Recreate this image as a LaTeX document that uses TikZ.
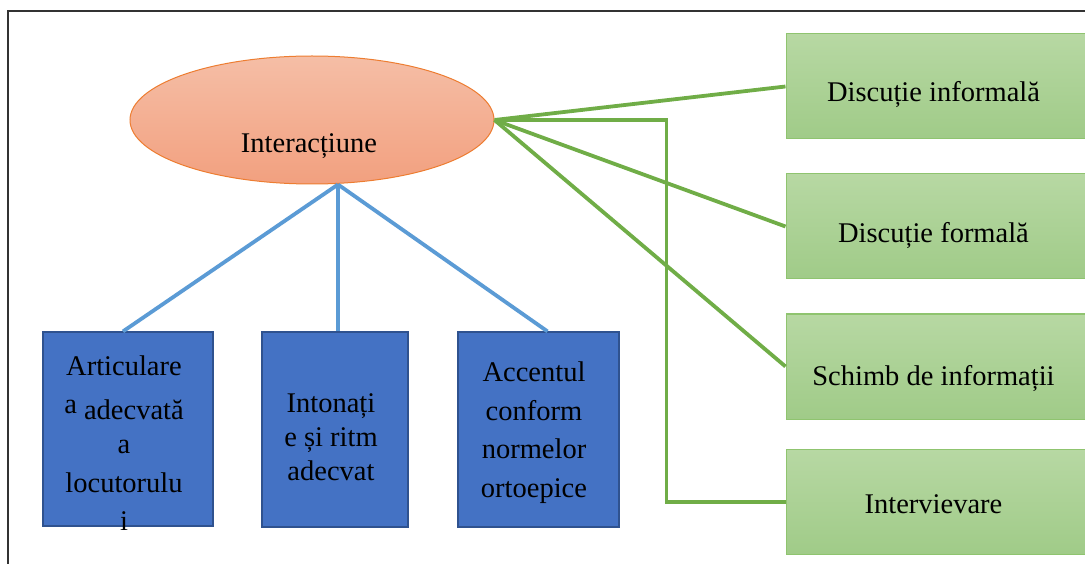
\documentclass[tikz,border=0pt]{standalone}
\usepackage{fontspec}
\setmainfont{Liberation Serif}
\usetikzlibrary{shapes.geometric,calc}

\definecolor{salmonTop}{HTML}{F5BEA6}
\definecolor{salmonBot}{HTML}{F2A07F}
\definecolor{orangeEdge}{HTML}{ED7D31}
\definecolor{boxBlue}{HTML}{4472C4}
\definecolor{boxBlueEdge}{HTML}{2F528F}
\definecolor{linkBlue}{HTML}{5B9BD5}
\definecolor{greenTop}{HTML}{B7D8A3}
\definecolor{greenBot}{HTML}{A0CB88}
\definecolor{greenEdge}{HTML}{8FC46F}
\definecolor{linkGreen}{HTML}{70AD47}

\begin{document}
\begin{tikzpicture}[x=1pt,y=-1pt,
  txt/.style={font=\fontsize{28.5}{38}\selectfont, inner sep=0pt, align=center, anchor=base},
  hub/.style={ellipse, draw=orangeEdge, line width=1pt, top color=salmonTop,
    bottom color=salmonBot, minimum width=364pt, minimum height=128pt, inner sep=0pt},
  bluebox/.style={rectangle, draw=boxBlueEdge, line width=1.2pt, fill=boxBlue, inner sep=0pt},
  greenbox/.style={rectangle, draw=greenEdge, line width=1pt, top color=greenTop,
    bottom color=greenBot, inner sep=0pt, minimum width=300pt, minimum height=105pt},
  bluelink/.style={draw=linkBlue, line width=3.8pt},
  greenlink/.style={draw=linkGreen, line width=3.8pt, line join=miter},
]
\useasboundingbox (0,0) rectangle (1085,564);
\begin{scope}
\clip (0,0) rectangle (1085,564);

% outer frame
\draw[line width=1.5pt, draw=black!80] (8,11) rectangle (1100,600);

% central ellipse
\node[hub] (hub) at (312,120) {};
\node[txt] (hubtxt) at (309,153) {Interacțiune};

% blue boxes
\node[bluebox, minimum width=170pt, minimum height=194pt] (b1) at (128,429) {};
\node[bluebox, minimum width=146pt, minimum height=195pt] (b2) at (335,429.5) {};
\node[bluebox, minimum width=161pt, minimum height=195pt] (b3) at (538.5,429.5) {};

% green boxes
\node[greenbox] (g1) at (936,86.5) {};
\node[greenbox] (g2) at (936,226.5) {};
\node[greenbox] (g3) at (936,366.5) {};
\node[greenbox] (g4) at (936,502) {};

% blue connectors
\coordinate (apex) at ($(hub.south)+(26,0)$);
\draw[bluelink] (apex) -- ($(b1.north)+(-5,0)$);
\draw[bluelink] (apex) -- ($(b2.north)+(3,0)$);
\draw[bluelink] (apex) -- ($(b3.north)+(9,0)$);

% green connectors
\draw[greenlink] (hub.east) -- (g1.west);
\draw[greenlink] (hub.east) -- (g2.west);
\draw[greenlink] (hub.east) -- (g3.west);
\draw[greenlink] (hub.east) -- ++(172,0) |- (g4.west);

% box texts (anchored on the baseline of their last line)
\node[txt] (t1) at (124,530) {Articulare\\[6pt]\raisebox{6pt}{a} adecvată\\[-4pt]a\\[1pt]locutorulu\\i};
\node[txt, font=\fontsize{28.5}{34}\selectfont] (t2) at (331,480) {Intonați\\e și ritm\\adecvat};
\node[txt, font=\fontsize{28.5}{38.5}\selectfont] (t3) at (534,497) {Accentul\\conform\\normelor\\ortoepice};

\node[txt] (g1t) at (933.5,102) {Discuție informală};
\node[txt] (g2t) at (933.5,243) {Discuție formală};
\node[txt] (g3t) at (933.5,385) {Schimb de informații};
\node[txt] (g4t) at (933.5,513) {Intervievare};
\end{scope}
\end{tikzpicture}
\end{document}
